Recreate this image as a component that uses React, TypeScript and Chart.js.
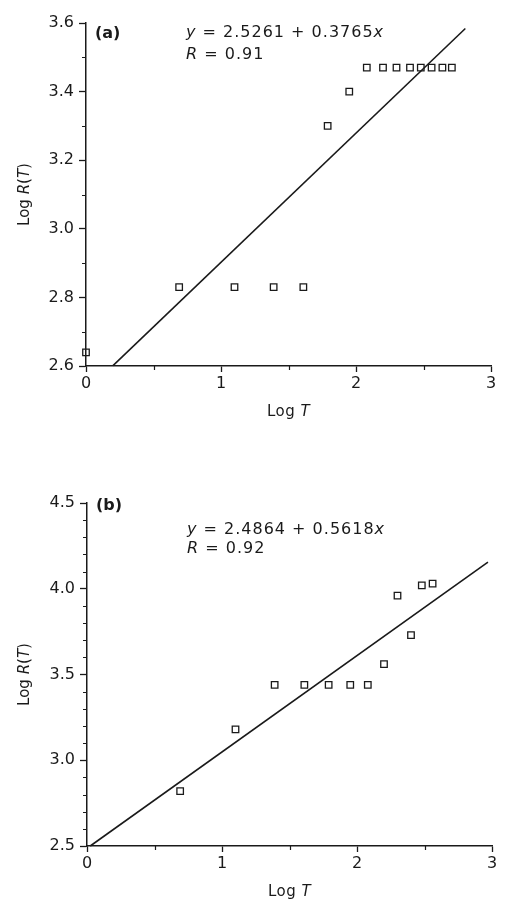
import React, { useEffect, useRef } from 'react';
import { Chart, registerables } from 'chart.js';

Chart.register(...registerables);

// ---------- data ----------
const logT_A = [0, 0.69, 1.1, 1.39, 1.61, 1.79, 1.95, 2.08, 2.2, 2.3, 2.4, 2.48, 2.56, 2.64, 2.71];
const logR_A = [2.64, 2.83, 2.83, 2.83, 2.83, 3.3, 3.4, 3.47, 3.47, 3.47, 3.47, 3.47, 3.47, 3.47, 3.47];
const fitA_x = [0.2, 2.81];
const fitA_y = [2.601, 3.584];

const logT_B = [0.69, 1.1, 1.39, 1.61, 1.79, 1.95, 2.08, 2.2, 2.3, 2.4, 2.48, 2.56];
const logR_B = [2.82, 3.18, 3.44, 3.44, 3.44, 3.44, 3.44, 3.56, 3.96, 3.73, 4.02, 4.03];
const fitB_x = [0.024, 2.97];
const fitB_y = [2.5, 4.155];

const xTicks = [0, 1, 2, 3];
const xMinor = [0.5, 1.5, 2.5];
const yTicksA = [2.6, 2.8, 3.0, 3.2, 3.4, 3.6];
const yMinorA = [2.7, 2.9, 3.1, 3.3, 3.5];
const yTicksB = [2.5, 3.0, 3.5, 4.0, 4.5];
const yMinorB = [2.6, 2.7, 2.8, 2.9, 3.1, 3.2, 3.3, 3.4, 3.6, 3.7, 3.8, 3.9, 4.1, 4.2, 4.3, 4.4];

const panelLabels = ['(a)', '(b)'];
const intercepts = ['2.5261', '2.4864'];
const slopes = ['0.3765', '0.5618'];
const rValues = ['0.91', '0.92'];

const FAMILY = "'DejaVu Sans', 'Liberation Sans', sans-serif";
const INK = '#1a1a1a';

type Run = [string, string];

function drawRuns(ctx: any, runs: Run[], x: number, y: number, spacing: number, align: 'left' | 'center') {
  ctx.save();
  ctx.textBaseline = 'middle';
  ctx.textAlign = 'left';
  ctx.fillStyle = INK;
  try { ctx.letterSpacing = spacing + 'px'; } catch (e) {}
  let total = 0;
  for (const [t, f] of runs) {
    ctx.font = f;
    total += ctx.measureText(t).width;
  }
  let cx = align === 'center' ? x - total / 2 : x;
  for (const [t, f] of runs) {
    ctx.font = f;
    ctx.fillText(t, cx, y);
    cx += ctx.measureText(t).width;
  }
  ctx.restore();
}

interface PanelProps {
  idx: number;
  top: number;
  height: number;
  padTop: number;
  padRight: number;
  yWidth: number;
  xHeight: number;
  xs: number[];
  ys: number[];
  fx: number[];
  fy: number[];
  yMin: number;
  yMax: number;
  yTicks: number[];
  yMinor: number[];
  labelDy: number;
  eqDy: number;
  rDy: number;
}

function Panel(p: PanelProps) {
  const ref = useRef<HTMLCanvasElement | null>(null);

  useEffect(() => {
    const canvas = ref.current;
    if (!canvas) return;

    const annot = {
      id: 'annot' + p.idx,
      afterDraw(chart: any) {
        const ctx = chart.ctx;
        const ca = chart.chartArea;
        const xs = chart.scales.x;
        const ys = chart.scales.y;
        // minor ticks
        ctx.save();
        ctx.strokeStyle = INK;
        ctx.lineWidth = 1.2;
        ctx.beginPath();
        for (const v of xMinor) {
          const px = Math.round(xs.getPixelForValue(v)) + 0.5;
          ctx.moveTo(px, ca.bottom);
          ctx.lineTo(px, ca.bottom + 4);
        }
        for (const v of p.yMinor) {
          const py = Math.round(ys.getPixelForValue(v)) + 0.5;
          ctx.moveTo(ca.left, py);
          ctx.lineTo(ca.left - 4, py);
        }
        ctx.stroke();
        ctx.restore();

        const normal = `16px ${FAMILY}`;
        const italic = `italic 16px ${FAMILY}`;
        // panel label
        drawRuns(ctx, [[panelLabels[p.idx], `bold 16px ${FAMILY}`]], ca.left + 9, ca.top + p.labelDy, 0, 'left');
        // equation
        drawRuns(
          ctx,
          [
            ['y', italic],
            [' = ' + intercepts[p.idx] + ' + ' + slopes[p.idx], normal],
            ['x', italic],
          ],
          ca.left + 100,
          ca.top + p.eqDy,
          1,
          'left'
        );
        drawRuns(ctx, [['R', italic], [' = ' + rValues[p.idx], normal]], ca.left + 100, ca.top + p.rDy, 1, 'left');

        // axis titles
        const tNormal = `15px ${FAMILY}`;
        const tItalic = `italic 15px ${FAMILY}`;
        drawRuns(ctx, [['Log ', tNormal], ['T', tItalic]], (ca.left + ca.right) / 2, ca.bottom + 46, 0.5, 'center');
        ctx.save();
        ctx.translate(25, (ca.top + ca.bottom) / 2);
        ctx.rotate(-Math.PI / 2);
        drawRuns(
          ctx,
          [
            ['Log ', tNormal],
            ['R', tItalic],
            ['(', tNormal],
            ['T', tItalic],
            [')', tNormal],
          ],
          0,
          0,
          0,
          'center'
        );
        ctx.restore();
      },
    };

    const chart = new Chart(canvas, {
      type: 'scatter',
      data: {
        datasets: [
          {
            label: 'fit',
            data: p.fx.map((x, i) => ({ x, y: p.fy[i] })),
            showLine: true,
            pointRadius: 0,
            borderColor: INK,
            borderWidth: 1.6,
            clip: false,
          } as any,
          {
            label: 'data',
            data: p.xs.map((x, i) => ({ x, y: p.ys[i] })),
            showLine: false,
            pointStyle: 'rect',
            pointRadius: 4.6,
            pointBorderWidth: 1.3,
            pointBorderColor: INK,
            pointBackgroundColor: 'rgba(255,255,255,0)',
            clip: false,
          } as any,
        ],
      },
      options: {
        responsive: false,
        animation: false,
        devicePixelRatio: 1,
        layout: { padding: { top: p.padTop, right: p.padRight, left: 0, bottom: 0 } },
        plugins: {
          legend: { display: false },
          tooltip: { enabled: false },
          title: { display: false },
        },
        scales: {
          x: {
            type: 'linear',
            min: 0,
            max: 3,
            afterBuildTicks: (scale: any) => {
              scale.ticks = xTicks.map((v) => ({ value: v }));
            },
            afterFit: (scale: any) => {
              scale.height = p.xHeight;
            },
            ticks: {
              autoSkip: false,
              maxRotation: 0,
              padding: 2,
              color: INK,
              font: { family: FAMILY, size: 16 },
              callback: (v: any) => String(Math.round(Number(v))),
            },
            grid: {
              drawOnChartArea: false,
              drawTicks: true,
              tickLength: 6,
              tickColor: INK,
              tickWidth: 1.3,
            },
            border: { display: true, color: INK, width: 1.5 },
          },
          y: {
            type: 'linear',
            min: p.yMin,
            max: p.yMax,
            afterBuildTicks: (scale: any) => {
              scale.ticks = p.yTicks.map((v) => ({ value: v }));
            },
            afterFit: (scale: any) => {
              scale.width = p.yWidth;
            },
            ticks: {
              autoSkip: false,
              padding: 5,
              color: INK,
              font: { family: FAMILY, size: 16 },
              callback: (v: any) => Number(v).toFixed(1),
            },
            grid: {
              drawOnChartArea: false,
              drawTicks: true,
              tickLength: 7,
              tickColor: INK,
              tickWidth: 1.3,
            },
            border: { display: true, color: INK, width: 1.5 },
          },
        },
      } as any,
      plugins: [annot],
    });

    return () => chart.destroy();
  }, []);

  return (
    <div style={{ position: 'absolute', left: 0, top: p.top, width: 505, height: p.height }}>
      <canvas ref={ref} width={505} height={p.height} style={{ display: 'block', width: 505, height: p.height }} />
    </div>
  );
}

export default function App() {
  return (
    <div style={{ position: 'absolute', left: 0, top: 0, width: 505, height: 899, background: '#fff', overflow: 'hidden' }}>
      <Panel
        idx={0}
        top={0}
        height={450}
        padTop={23}
        padRight={14}
        yWidth={86}
        xHeight={84}
        xs={logT_A}
        ys={logR_A}
        fx={fitA_x}
        fy={fitA_y}
        yMin={2.6}
        yMax={3.6}
        yTicks={yTicksA}
        yMinor={yMinorA}
        labelDy={11}
        eqDy={10}
        rDy={32}
      />
      <Panel
        idx={1}
        top={450}
        height={449}
        padTop={53}
        padRight={13}
        yWidth={87}
        xHeight={53}
        xs={logT_B}
        ys={logR_B}
        fx={fitB_x}
        fy={fitB_y}
        yMin={2.5}
        yMax={4.5}
        yTicks={yTicksB}
        yMinor={yMinorB}
        labelDy={3}
        eqDy={27}
        rDy={46}
      />
    </div>
  );
}
